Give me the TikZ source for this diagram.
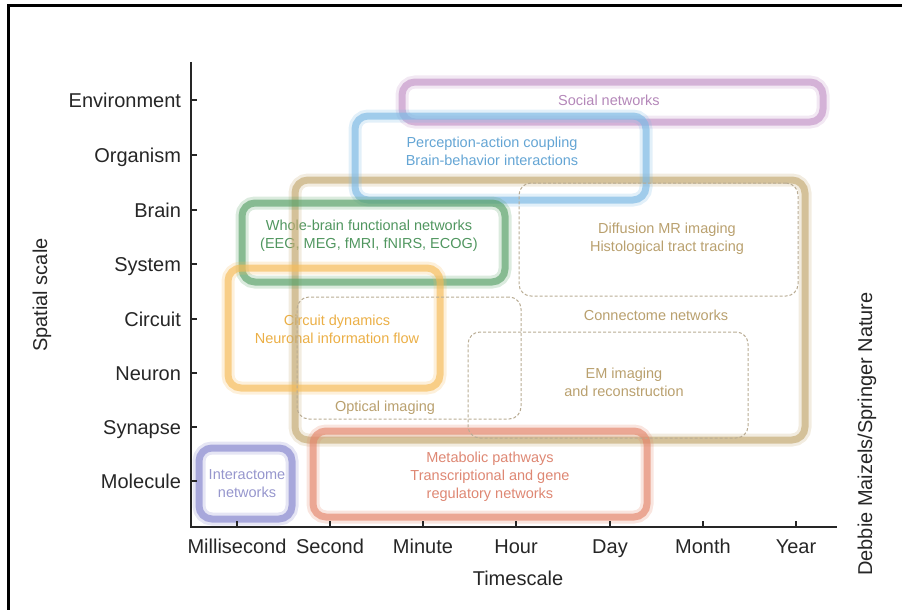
\documentclass[tikz,border=0pt]{standalone}
\usepackage{fontspec}
\setmainfont{Liberation Sans}
\definecolor{socialcol}{RGB}{196,150,200}
\definecolor{socialtxt}{RGB}{180,135,185}
\definecolor{bluecol}{RGB}{125,185,228}
\definecolor{bluetxt}{RGB}{100,165,212}
\definecolor{tancol}{RGB}{196,170,115}
\definecolor{tantxt}{RGB}{185,160,110}
\definecolor{greencol}{RGB}{90,162,105}
\definecolor{greentxt}{RGB}{80,150,95}
\definecolor{orangecol}{RGB}{245,188,90}
\definecolor{orangetxt}{RGB}{235,175,70}
\definecolor{indigocol}{RGB}{135,135,205}
\definecolor{indigotxt}{RGB}{150,150,205}
\definecolor{salmoncol}{RGB}{228,135,108}
\definecolor{salmontxt}{RGB}{222,135,115}
\definecolor{dashcol}{RGB}{185,172,148}
\tikzset{
	net box/.style={rectangle, rounded corners=13pt, line width=7pt, draw=#1, draw opacity=0.65,
		preaction={draw=#1, line width=13pt, draw opacity=0.22}},
	method box/.style={rectangle, rounded corners=12pt, draw=dashcol, line width=1pt, dash pattern=on 3pt off 2pt}
}
\begin{document}
\begin{tikzpicture}[x=1pt,y=-1pt]
	\tikzstyle{every node}=[inner sep=0pt, outer sep=0pt]
	\tikzstyle{scale label}=[font=\fontsize{20}{24}\selectfont, text=black!85]
	\tikzstyle{net text}=[font=\fontsize{14.5}{18}\selectfont, align=center]
	\tikzstyle{axis}=[line width=1.5pt, black!85]

	\useasboundingbox (0,0) rectangle (902,610);
	\draw[line width=2.5pt] (8.5,610) -- (8.5,5.5) -- (902,5.5);

	% texts under the boxes
	\node[net text, text=socialtxt] (social-txt) at (609,100) {Social networks};
	\node[net text, text=bluetxt] (percept-txt) at (492,151) {Perception-action coupling\\Brain-behavior interactions};
	\node[net text, text=greentxt] (wholebrain-txt) at (369,236) {Whole-brain functional networks\\(EEG, MEG, fMRI, fNIRS, ECOG)};
	\node[net text, text=orangetxt] (circuit-txt) at (337,329) {Circuit dynamics\\Neuronal information flow};
	\node[net text, text=indigotxt] (interact-txt) at (247,484) {Interactome\\networks};
	\node[net text, text=salmontxt] (metab-txt) at (490,477) {Metabolic pathways\\Transcriptional and gene\\regulatory networks};
	\node[net text, text=tantxt] (diffusion-txt) at (667,239) {Diffusion MR imaging\\Histological tract tracing};
	\node[net text, text=tantxt] (connect-txt) at (656,315) {Connectome networks};
	\node[net text, text=tantxt] (em-txt) at (624,382) {EM imaging\\and reconstruction};
	\node[net text, text=tantxt] (optical-txt) at (385,408) {Optical imaging};

	% network boxes
	\node[net box=tancol, minimum width=510pt, minimum height=260pt] (connect) at (550,310) {};
	\node[net box=socialcol, minimum width=421pt, minimum height=40pt] (social) at (612.5,102) {};
	\node[net box=bluecol, minimum width=291pt, minimum height=84pt] (percept) at (500.5,158) {};
	\node[net box=greencol, minimum width=263pt, minimum height=79pt] (wholebrain) at (373.5,242.5) {};
	\node[net box=orangecol, minimum width=212pt, minimum height=120pt] (circuit) at (334,328) {};
	\node[net box=indigocol, minimum width=93pt, minimum height=71pt] (interact) at (245.5,483.5) {};
	\node[net box=salmoncol, minimum width=334pt, minimum height=86pt] (metab) at (480,474) {};

	% imaging methods
	\node[method box, minimum width=279pt, minimum height=113pt] (diffusion) at (658.5,239.5) {};
	\node[method box, minimum width=224pt, minimum height=122pt] (optical) at (409,358) {};
	\node[method box, minimum width=280pt, minimum height=106pt] (em) at (608,385) {};

	% axes
	\coordinate (origin) at (191,527);
	\coordinate (ytop) at (191,62);
	\coordinate (xend) at (837,527);
	\draw[axis] (ytop) -- (origin) -- (xend);

	\draw[axis] (191,100) -- ++(6,0);
	\draw[axis] (191,155) -- ++(6,0);
	\draw[axis] (191,210) -- ++(6,0);
	\draw[axis] (191,264) -- ++(6,0);
	\draw[axis] (191,319) -- ++(6,0);
	\draw[axis] (191,373) -- ++(6,0);
	\draw[axis] (191,427) -- ++(6,0);
	\draw[axis] (191,481) -- ++(6,0);
	\node[scale label, anchor=base east] (environment) at (181,107.5) {Environment};
	\node[scale label, anchor=base east] (organism) at (181,162.5) {Organism};
	\node[scale label, anchor=base east] (brain) at (181,217.5) {Brain};
	\node[scale label, anchor=base east] (system) at (181,271.5) {System};
	\node[scale label, anchor=base east] (circuit-lbl) at (181,326.5) {Circuit};
	\node[scale label, anchor=base east] (neuron) at (181,380.5) {Neuron};
	\node[scale label, anchor=base east] (synapse) at (181,434.5) {Synapse};
	\node[scale label, anchor=base east] (molecule) at (181,488.5) {Molecule};

	\draw[axis] (237,527) -- ++(0,-6);
	\draw[axis] (330,527) -- ++(0,-6);
	\draw[axis] (423,527) -- ++(0,-6);
	\draw[axis] (516,527) -- ++(0,-6);
	\draw[axis] (610,527) -- ++(0,-6);
	\draw[axis] (703,527) -- ++(0,-6);
	\draw[axis] (796,527) -- ++(0,-6);
	\node[scale label, anchor=base] (millisecond) at (237,553) {Millisecond};
	\node[scale label, anchor=base] (second) at (330,553) {Second};
	\node[scale label, anchor=base] (minute) at (423,553) {Minute};
	\node[scale label, anchor=base] (hour) at (516,553) {Hour};
	\node[scale label, anchor=base] (day) at (610,553) {Day};
	\node[scale label, anchor=base] (month) at (703,553) {Month};
	\node[scale label, anchor=base] (year) at (796,553) {Year};

	\node[scale label, anchor=base] (timescale) at (518,585) {Timescale};
	\node[scale label, anchor=base, rotate=90] (spatial) at (47,295) {Spatial scale};
	\node[scale label, anchor=base, rotate=90] (credit) at (872,434) {Debbie Maizels/Springer Nature};
\end{tikzpicture}
\end{document}
